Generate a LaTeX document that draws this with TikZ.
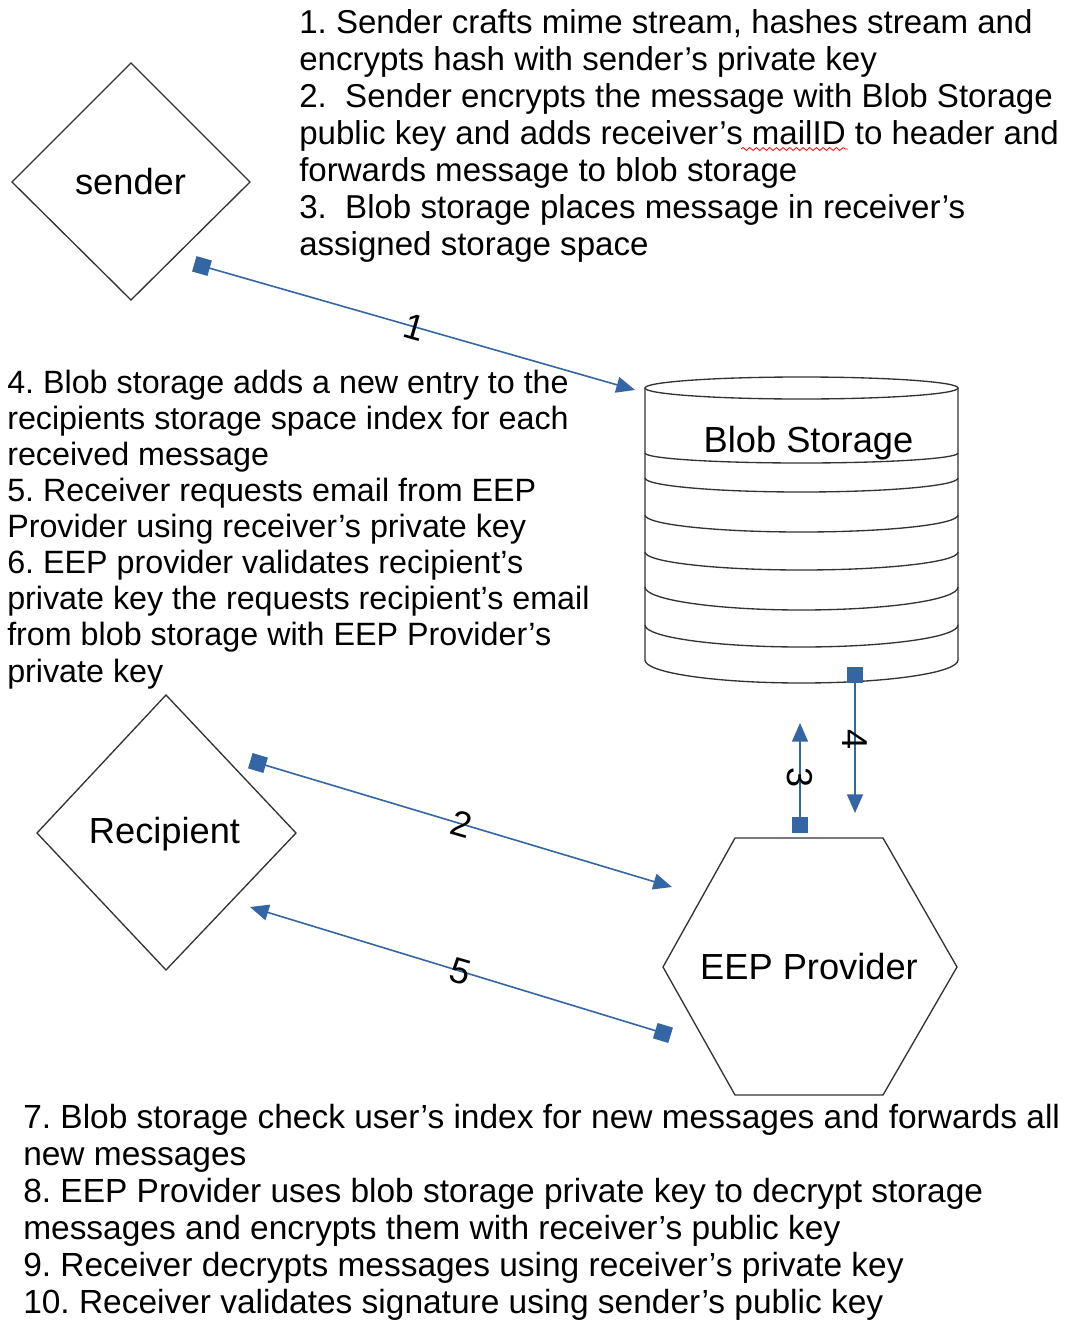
\documentclass[tikz,border=0pt]{standalone}
\usepackage{fontspec}
\setmainfont{Liberation Sans}
\usetikzlibrary{arrows.meta,decorations.pathmorphing}
\definecolor{connblue}{HTML}{3465A4}
\frenchspacing
\begin{document}
\begin{tikzpicture}[x=0.75pt,y=-0.75pt,
  shapeline/.style={draw=black!80, line width=1.0pt, line join=miter},
  nodetext/.style={font=\fontsize{27.2pt}{30pt}\selectfont, inner sep=0pt},
  conn/.style={draw=connblue, line width=1.2pt,
    {Square[length=12pt,width=12pt,fill=connblue]}-{Triangle[length=14pt,width=12pt,fill=connblue]}},
  clabel/.style={font=\fontsize{27pt}{30pt}\selectfont, inner sep=0pt},
  blocktop/.style={anchor=base west, align=left, inner sep=0pt, font=\fontsize{24.8pt}{27.75pt}\selectfont},
  blockleft/.style={anchor=base west, align=left, inner sep=0pt, font=\fontsize{24.2pt}{27.08pt}\selectfont},
  blockbot/.style={anchor=base west, align=left, inner sep=0pt, font=\fontsize{25.1pt}{27.75pt}\selectfont}
]
\useasboundingbox (0,0) rectangle (1065,1320);

% shapes
\draw[shapeline] (131,63) -- (250,182) -- (131,300) -- (12,182) -- cycle;
\draw[shapeline] (166,695) -- (296,833) -- (166,970) -- (37,833) -- cycle;
\draw[shapeline] (735,838) -- (883,838) -- (957,967) -- (883,1095) -- (735,1095) -- (663,967) -- cycle;
% cylinder
\draw[shapeline] (645,388) -- (645,660) arc[start angle=180,end angle=0,x radius=156.5,y radius=23] -- (958,388);
\draw[shapeline] (801.5,388) ellipse [x radius=156.5, y radius=11];
\foreach \yy/\ss in {453/10,478/14,515/17,552/18,587/23,625/22}
  \draw[shapeline] (645,\yy) arc[start angle=180,end angle=0,x radius=156.5,y radius=\ss];

% node texts
\node[nodetext, anchor=base] (sender) at (130.5,194) {sender};
\node[nodetext, anchor=base] (recipient) at (164.5,843) {Recipient};
\node[nodetext, anchor=base] (blob) at (808.5,452) {Blob Storage};
\node[nodetext, anchor=base] (eep) at (809,979) {EEP Provider};

% connectors
\coordinate (c1s) at (194.3,263.8); \coordinate (c1e) at (635,390);
\coordinate (c2s) at (250.3,760.7); \coordinate (c2e) at (672,887);
\coordinate (c5s) at (670.6,1035.3); \coordinate (c5e) at (250,907);
\coordinate (c3s) at (800,833); \coordinate (c3e) at (800,723);
\coordinate (c4s) at (855,667); \coordinate (c4e) at (855,813);
\draw[conn] (c1s) -- node[clabel, rotate=-16] (l1) {1} (c1e);
\draw[conn] (c2s) -- node[clabel, rotate=-16] (l2) {2} (c2e);
\draw[conn] (c5s) -- node[clabel, rotate=-16] (l5) {5} (c5e);
\draw[conn] (c3s) -- node[clabel, rotate=-90] (l3) {3} (c3e);
\draw[conn] (c4s) -- node[clabel, rotate=-90] (l4) {4} (c4e);

% text blocks (anchor = baseline of last line)
\node[blocktop] (ttop) at (299,255) {1. Sender crafts mime stream, hashes stream and\\
encrypts hash with sender’s private key\\
2.\ \ Sender encrypts the message with Blob Storage\\
public key and adds receiver’s mailID to header and\\
forwards message to blob storage\\
3.\ \ Blob storage places message in receiver’s\\
assigned storage space};
\draw[red, line width=0.6pt, decorate, decoration={snake, amplitude=1.1pt, segment length=5pt}] (741,149) -- (848,149);

\node[blockleft] (tleft) at (7,682) {4. Blob storage adds a new entry to the\\
recipients storage space index for each\\
received message\\
5. Receiver requests email from EEP\\
Provider using receiver’s private key\\
6. EEP provider validates recipient’s\\
private key the requests recipient’s email\\
from blob storage with EEP Provider’s\\
private key};

\node[blockbot] (tbot) at (23,1313) {7. Blob storage check user’s index for new messages and forwards all\\
new messages\\
8. EEP Provider uses blob storage private key to decrypt storage\\
messages and encrypts them with receiver’s public key\\
9. Receiver decrypts messages using receiver’s private key\\
10. Receiver validates signature using sender’s public key};
\end{tikzpicture}
\end{document}
